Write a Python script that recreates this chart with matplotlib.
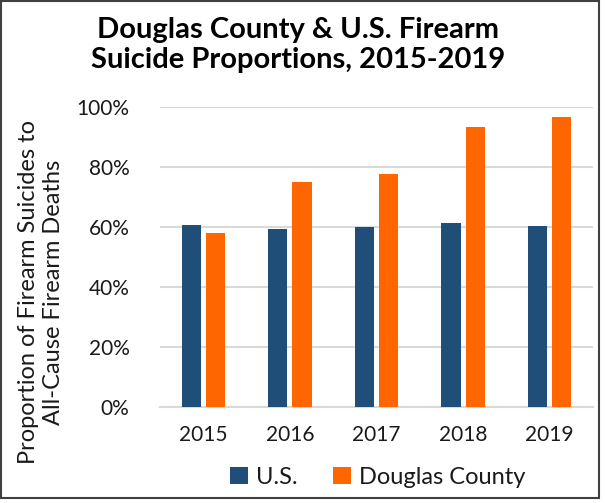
import matplotlib.pyplot as plt
import numpy as np
from matplotlib.patches import Rectangle
from matplotlib.ticker import PercentFormatter

plt.rcParams['font.family'] = ['Lato', 'DejaVu Sans']

# data
years = ['2015', '2016', '2017', '2018', '2019']
us = [0.607, 0.593, 0.600, 0.614, 0.603]
douglas = [0.580, 0.750, 0.777, 0.932, 0.967]

blue = '#1F4E79'
orange = '#FF6600'
grid_c = '#D9D9D9'

fig = plt.figure(figsize=(6.05, 5.03), dpi=100)
ax = fig.add_axes([160 / 605, 96 / 503, 433 / 605, 300 / 503])

x = np.arange(len(years))
w = 0.22
ax.bar(x - 0.14, us, w, color=blue, label='U.S.', zorder=3)
ax.bar(x + 0.14, douglas, w, color=orange, label='Douglas County', zorder=3)

ax.set_xlim(-0.5, len(years) - 0.5)
ax.set_ylim(0, 1.0)
ax.set_yticks(np.arange(0, 1.01, 0.2))
ax.yaxis.set_major_formatter(PercentFormatter(1.0, decimals=0))
ax.set_xticks(x)
ax.set_xticklabels(years)
ax.tick_params(axis='both', length=0, labelsize=15, colors='#1a1a1a')
ax.tick_params(axis='x', pad=13)
ax.tick_params(axis='y', pad=22)

ax.grid(axis='y', color=grid_c, linewidth=1.5, zorder=0)
for s in ['top', 'right', 'left']:
    ax.spines[s].set_visible(False)
ax.spines['bottom'].set_color(grid_c)
ax.spines['bottom'].set_linewidth(1.5)

fig.text(0.493, 1 - 45 / 503, 'Douglas County & U.S. Firearm\nSuicide Proportions, 2015-2019',
         ha='center', va='center', fontsize=21, fontweight='bold', linespacing=1.15)

fig.text(41 / 605, 1 - 292 / 503, 'Proportion of Firearm Suicides to\nAll-Cause Firearm Deaths',
         ha='center', va='center', rotation=90, fontsize=17, color='#1a1a1a', linespacing=1.22)

fig.legend(loc='center', bbox_to_anchor=(378 / 605, 1 - 477 / 503), ncol=2, frameon=False,
           fontsize=17, handlelength=0.75, handleheight=0.75, handletextpad=0.35,
           columnspacing=1.5, labelcolor='#1a1a1a')

fig.patches.append(Rectangle((1 / 605, 5 / 503), 598 / 605, 497 / 503, transform=fig.transFigure,
                             fill=False, edgecolor='#404040', linewidth=1.5))

fig.savefig('out.png', dpi=100)
